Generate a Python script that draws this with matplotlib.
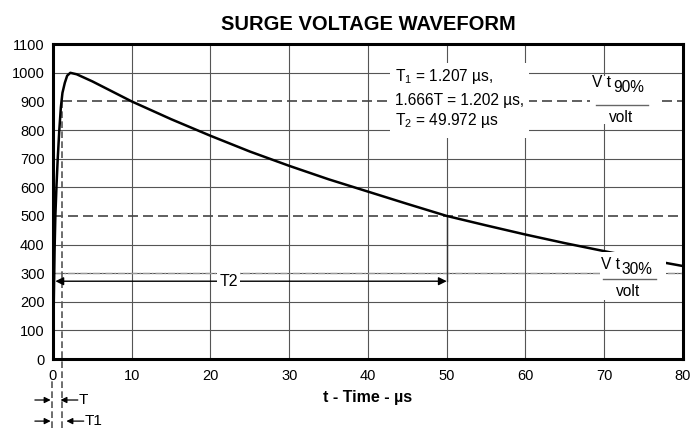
import numpy as np
import matplotlib.pyplot as plt
from matplotlib.patches import Rectangle
import matplotlib.transforms as mtransforms

plt.rcParams['font.family'] = 'Liberation Sans'
plt.rcParams['mathtext.fontset'] = 'custom'
plt.rcParams['mathtext.rm'] = 'Liberation Sans'
plt.rcParams['font.size'] = 10

# surge waveform (time in us, voltage in V)
t_us = [0.0, 0.1, 0.2, 0.3, 0.45, 0.6, 0.8, 1.0, 1.2, 1.5, 1.8, 2.2, 3, 5,
        10, 15, 20, 25, 30, 35, 40, 45, 50, 55, 60, 65, 70, 75, 80]
v_volt = [0, 200, 380, 500, 610, 700, 800, 880, 930, 965, 990, 1000, 995, 970,
          900, 838, 780, 725, 675, 628, 585, 542, 500, 467, 435, 405, 377, 350, 325]

xticks = [0, 10, 20, 30, 40, 50, 60, 70, 80]
yticks = [0, 100, 200, 300, 400, 500, 600, 700, 800, 900, 1000, 1100]

v90 = 900
v50 = 500
v30 = 300
t_front = 1.1     # T / T1 marker
t2 = 50.0
t2_arrow_v = 272

fs_box = 11.2

fig = plt.figure(figsize=(6.91, 4.29), dpi=100)
ax = fig.add_axes([0.0767, 0.163, 0.9117, 0.734])

ax.set_xlim(0, 80)
ax.set_ylim(0, 1100)
ax.set_xticks(xticks)
ax.set_yticks(yticks)
ax.tick_params(length=0, labelsize=10.5)
ax.tick_params(axis='x', pad=7)
ax.tick_params(axis='y', pad=6)
ax.grid(color='#555555', linewidth=0.8)
for val, gl in zip(yticks, ax.get_ygridlines()):
    if val in (v50, v90):
        gl.set_visible(False)
for sp in ax.spines.values():
    sp.set_linewidth(2.2)
    sp.set_zorder(6)

# reference levels
ax.plot([t_front, 80], [v90, v90], color='#444444', lw=1.2, ls=(0, (6, 3)), zorder=2)
ax.plot([0, 80], [v50, v50], color='#444444', lw=1.2, ls=(0, (6, 3)), zorder=2)
ax.plot([0.3, 80], [v30, v30], color='#999999', lw=1.0, ls=(0, (5, 1.5, 1, 1.5)), zorder=2)
ax.plot([t2, t2], [t2_arrow_v, v50], color='#333333', lw=1.0, zorder=2)

# front time markers (extend below the axes)
trans = mtransforms.blended_transform_factory(ax.transData, ax.transAxes)
ax.plot([t_front, t_front], [-0.22, v90 / 1100], color='#555555', lw=1.2,
        ls=(0, (4, 2)), transform=trans, clip_on=False, zorder=3)
ax.plot([-0.1, -0.1], [-0.22, -0.07], color='#555555', lw=1.2,
        ls=(0, (4, 2)), transform=trans, clip_on=False, zorder=3)

ax.plot(t_us, v_volt, color='black', lw=1.8, zorder=4)

# T2 arrow
ax.annotate('', xy=(0.3, t2_arrow_v), xytext=(t2, t2_arrow_v),
            arrowprops=dict(arrowstyle='<|-|>', color='black', lw=1.0,
                            mutation_scale=12, shrinkA=0, shrinkB=0), zorder=5)
ax.text(22.3, t2_arrow_v, 'T2', ha='center', va='center', fontsize=11.5, zorder=7,
        bbox=dict(facecolor='white', edgecolor='none', pad=1.5))

# T and T1 markers under the axis
arrow_kw = dict(arrowstyle='-|>', color='black', lw=0.9, mutation_scale=9,
                shrinkA=0, shrinkB=0)
for y_ax, t_right, label in [(-0.13, 0.95, 'T'), (-0.197, 1.7, 'T1')]:
    ax.annotate('', xy=(-0.3, y_ax), xytext=(-2.3, y_ax), xycoords=trans,
                textcoords=trans, arrowprops=arrow_kw, annotation_clip=False)
    ax.annotate('', xy=(t_right, y_ax), xytext=(t_right + 2.2, y_ax), xycoords=trans,
                textcoords=trans, arrowprops=arrow_kw, annotation_clip=False)
    ax.text(t_right + 2.3, y_ax, label, transform=trans, ha='left', va='center',
            fontsize=11, clip_on=False)

# results box
ax.add_patch(Rectangle((42.8, 772), 17.6, 261, facecolor='white', edgecolor='none', zorder=5))
ax.text(43.4, 986, r'T$_1$ = 1.207 µs,', ha='left', va='center', fontsize=fs_box, zorder=7)
ax.text(43.4, 904, '1.666T = 1.202 µs,', ha='left', va='center', fontsize=fs_box, zorder=7)
ax.text(43.4, 834, r'T$_2$ = 49.972 µs', ha='left', va='center', fontsize=fs_box, zorder=7)

# V t90% / volt box
ax.add_patch(Rectangle((68.2, 821), 8.5, 168, facecolor='white', edgecolor='none', zorder=5))
ax.text(70.9, 966, 'V t', ha='right', va='center', fontsize=fs_box, zorder=7)
ax.text(71.1, 950, '90%', ha='left', va='center', fontsize=fs_box, zorder=7)
ax.plot([69.0, 75.5], [887, 887], color='#666666', lw=1.0, zorder=7)
ax.text(72.2, 844, 'volt', ha='center', va='center', fontsize=fs_box, zorder=7)

# V t30% / volt box
ax.add_patch(Rectangle((69.4, 205), 8.4, 170, facecolor='white', edgecolor='none', zorder=5))
ax.text(72.0, 330, 'V t', ha='right', va='center', fontsize=fs_box, zorder=7)
ax.text(72.2, 313, '30%', ha='left', va='center', fontsize=fs_box, zorder=7)
ax.plot([69.8, 76.6], [280, 280], color='#666666', lw=1.0, zorder=7)
ax.text(73.0, 235, 'volt', ha='center', va='center', fontsize=fs_box, zorder=7)

ax.set_title('SURGE VOLTAGE WAVEFORM', fontsize=14.5, fontweight='bold', pad=10)
ax.set_xlabel('t - Time - µs', fontsize=11.5, fontweight='bold', labelpad=5)

fig.savefig('out.png', dpi=100)
